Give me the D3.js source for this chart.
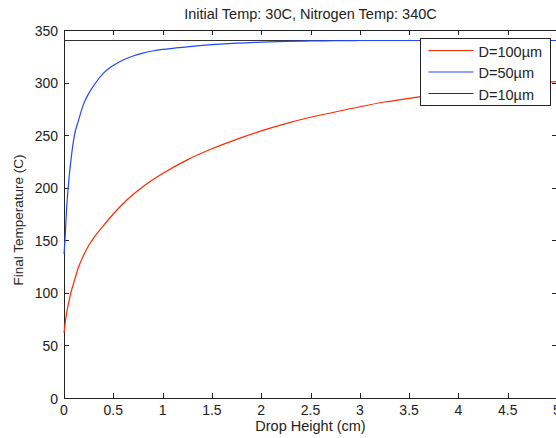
<!DOCTYPE html>
<html>
<head>
<meta charset="utf-8">
<script src="https://cdn.jsdelivr.net/npm/d3@7"></script>
<style>
  body { margin: 0; background: #fff; }
  text { font-family: "Liberation Sans", Arial, sans-serif; fill: #222; }
</style>
</head>
<body>
<svg id="chart" width="556" height="438"></svg>
<script>
// drop height (cm)
var heights = [0, 0.01, 0.025, 0.05, 0.075, 0.1, 0.15, 0.2, 0.25, 0.3, 0.4, 0.5, 0.6, 0.7, 0.8, 0.9, 1.0,
    1.25, 1.5, 1.75, 2, 2.25, 2.5, 2.75, 3, 3.25, 3.5, 3.75, 4, 4.25, 4.5, 4.75, 5];

// final temperature (C)
var temp100 = [62, 70, 80, 92, 102, 110, 125, 136, 145, 152, 164, 175, 185, 193.5, 201, 207.5, 213.5,
    226.5, 237, 246, 254, 261, 267, 272, 277, 281.5, 285, 288.5, 291.5, 294.5, 297, 299, 301];
var temp50 = [137, 150, 178, 208, 230, 247, 265, 280, 289.5, 297, 309, 316.3, 321.5, 325.3, 328, 330, 331.5,
    334, 336, 337.5, 338.5, 339.2, 339.6, 339.8, 340, 340, 340, 340, 340, 340, 340, 340, 340];
var temp10 = [340, 340, 340, 340, 340, 340, 340, 340, 340, 340, 340, 340, 340, 340, 340, 340, 340,
    340, 340, 340, 340, 340, 340, 340, 340, 340, 340, 340, 340, 340, 340, 340, 340];

var seriesNames = ['D=100\u00b5m', 'D=50\u00b5m', 'D=10\u00b5m'];
var seriesColors = ['#ff2a00', '#2248ff', '#333333'];

var xTicks = [0, 0.5, 1, 1.5, 2, 2.5, 3, 3.5, 4, 4.5, 5];
var yTicks = [0, 50, 100, 150, 200, 250, 300, 350];

var svg = d3.select('#chart');
var pLeft = 64, pRight = 557, pTop = 30, pBottom = 398;

var x = d3.scaleLinear().domain([0, 5]).range([pLeft, pRight]);
var y = d3.scaleLinear().domain([0, 350]).range([pBottom, pTop]);

// box
svg.append('rect')
    .attr('x', pLeft + 0.5).attr('y', pTop + 0.5)
    .attr('width', pRight - pLeft).attr('height', pBottom - pTop)
    .attr('fill', 'none').attr('stroke', '#222').attr('stroke-width', 1);

// ticks inward, like matlab
var ax = svg.append('g').attr('stroke', '#222').attr('stroke-width', 1);
xTicks.forEach(function(t) {
    var xx = Math.round(x(t)) + 0.5;
    ax.append('line').attr('x1', xx).attr('x2', xx).attr('y1', pBottom).attr('y2', pBottom - 5);
    ax.append('line').attr('x1', xx).attr('x2', xx).attr('y1', pTop).attr('y2', pTop + 5);
});
yTicks.forEach(function(t) {
    var yy = Math.round(y(t)) + 0.5;
    ax.append('line').attr('x1', pLeft).attr('x2', pLeft + 5).attr('y1', yy).attr('y2', yy);
    ax.append('line').attr('x1', pRight - 5).attr('x2', pRight).attr('y1', yy).attr('y2', yy);
});

svg.selectAll('.xlab').data(xTicks).enter().append('text')
    .attr('x', function(d) { return x(d); })
    .attr('y', pBottom + 17)
    .attr('text-anchor', 'middle')
    .style('font-size', '14px')
    .text(function(d) { return d; });

svg.selectAll('.ylab').data(yTicks).enter().append('text')
    .attr('x', pLeft - 6)
    .attr('y', function(d) { return y(d) + 5.5; })
    .attr('text-anchor', 'end')
    .style('font-size', '14px')
    .text(function(d) { return d; });

// lines
var line = d3.line()
    .x(function(d, i) { return x(heights[i]); })
    .y(function(d) { return y(d); })
    .curve(d3.curveMonotoneX);

var allSeries = [temp100, temp10, temp50];
var order = [0, 2, 1];
allSeries.forEach(function(s, k) {
    svg.append('path')
        .datum(s)
        .attr('fill', 'none')
        .attr('stroke', seriesColors[order[k]])
        .attr('stroke-width', 1.2)
        .attr('d', line);
});

// titles
svg.append('text')
    .attr('x', (pLeft + pRight) / 2).attr('y', 19)
    .attr('text-anchor', 'middle')
    .style('font-size', '14.5px')
    .text('Initial Temp: 30C, Nitrogen Temp: 340C');

svg.append('text')
    .attr('x', (pLeft + pRight) / 2).attr('y', 431)
    .attr('text-anchor', 'middle')
    .style('font-size', '14.5px')
    .text('Drop Height (cm)');

svg.append('text')
    .attr('transform', 'translate(23,220) rotate(-90)')
    .attr('text-anchor', 'middle')
    .style('font-size', '13.5px')
    .text('Final Temperature (C)');

// legend
var lg = svg.append('g').attr('transform', 'translate(420.5,38.5)');
lg.append('rect')
    .attr('width', 130).attr('height', 67)
    .attr('fill', '#fff').attr('stroke', '#222').attr('stroke-width', 1);
seriesNames.forEach(function(name, i) {
    var yy = 12 + i * 21.5;
    lg.append('line')
        .attr('x1', 8).attr('x2', 53).attr('y1', yy).attr('y2', yy)
        .attr('stroke', seriesColors[i]).attr('stroke-width', 1.2);
    lg.append('text')
        .attr('x', 58).attr('y', yy + 6)
        .style('font-size', '14.5px')
        .text(name);
});
</script>
</body>
</html>
